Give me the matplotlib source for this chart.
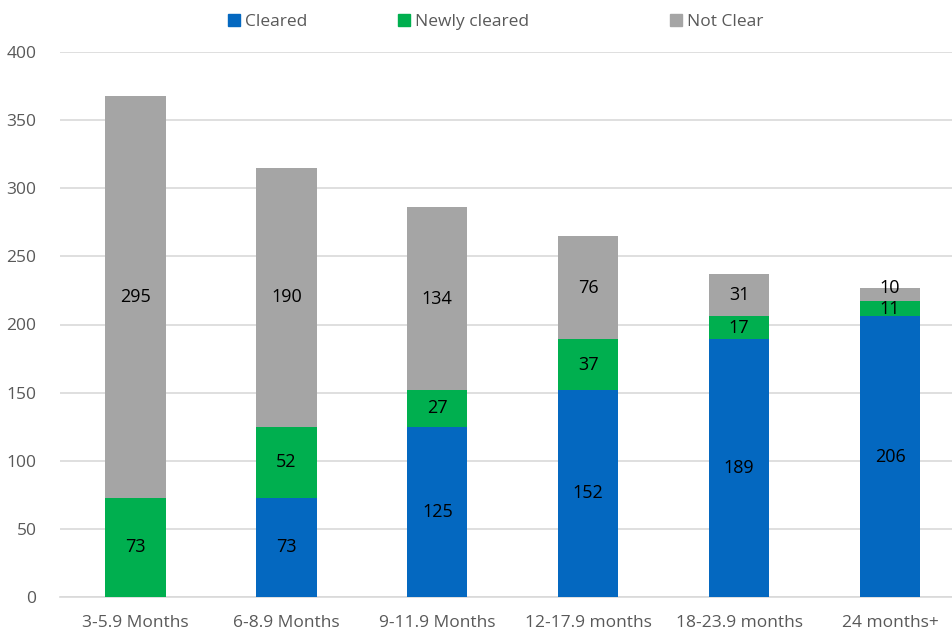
import numpy as np
import matplotlib.pyplot as plt
from matplotlib.patches import Patch

categories = ['3-5.9 Months', '6-8.9 Months', '9-11.9 Months',
              '12-17.9 months', '18-23.9 months', '24 months+']
cleared = [0, 73, 125, 152, 189, 206]
newly_cleared = [73, 52, 27, 37, 17, 11]
not_clear = [295, 190, 134, 76, 31, 10]

plt.rcParams['font.family'] = ['Open Sans', 'DejaVu Sans']

fig = plt.figure(figsize=(9.52, 6.31), dpi=100)
ax = fig.add_axes([60 / 952, (631 - 597) / 631, 1 - 60 / 952, (597 - 52) / 631])

x = np.arange(len(categories))
w = 0.4
c_blue, c_green, c_gray = '#0468C0', '#00AF4F', '#A5A5A5'

ax.bar(x, cleared, w, color=c_blue, zorder=3)
ax.bar(x, newly_cleared, w, bottom=cleared, color=c_green, zorder=3)
bottom2 = np.array(cleared) + np.array(newly_cleared)
ax.bar(x, not_clear, w, bottom=bottom2, color=c_gray, zorder=3)

# data labels in the middle of each segment
for i in range(len(categories)):
    if cleared[i] > 0:
        ax.text(x[i], cleared[i] / 2, str(cleared[i]), ha='center', va='center', fontsize=13, zorder=4)
    ax.text(x[i], cleared[i] + newly_cleared[i] / 2, str(newly_cleared[i]),
            ha='center', va='center', fontsize=13, zorder=4)
    # small top segment: push its label up a little so it doesn't sit on the one below
    dy = 5 if not_clear[i] < 15 else 0
    ax.annotate(str(not_clear[i]), (x[i], bottom2[i] + not_clear[i] / 2),
                xytext=(0, dy), textcoords='offset points',
                ha='center', va='center', fontsize=13, zorder=4)

ax.set_ylim(0, 400)
ax.set_yticks(range(0, 401, 50))
ax.set_xlim(-0.5, 5 + (952 - 890) / 151)
ax.set_xticks(x)
ax.set_xticklabels(categories)
ax.grid(axis='y', color='#D9D9D9', linewidth=1.2, zorder=0)
for s in ['top', 'right', 'left']:
    ax.spines[s].set_visible(False)
ax.spines['bottom'].set_color('#D9D9D9')
ax.spines['bottom'].set_linewidth(1.2)
ax.tick_params(axis='both', length=0, labelsize=12.5, colors='#595959')
ax.tick_params(axis='x', pad=13)
ax.tick_params(axis='y', pad=17)

# legend entries placed like the original (one per entry)
legend_items = [('Cleared', c_blue, 228), ('Newly cleared', c_green, 398), ('Not Clear', c_gray, 670)]
for name, col, px in legend_items:
    fig.legend(handles=[Patch(color=col, label=name)], loc='center left',
               bbox_to_anchor=(px / 952, 1 - 22 / 631), frameon=False, fontsize=12.5,
               handlelength=0.7, handleheight=0.7, handletextpad=0.3,
               borderpad=0, borderaxespad=0, labelcolor='#595959')

fig.savefig('out.png', dpi=100)
